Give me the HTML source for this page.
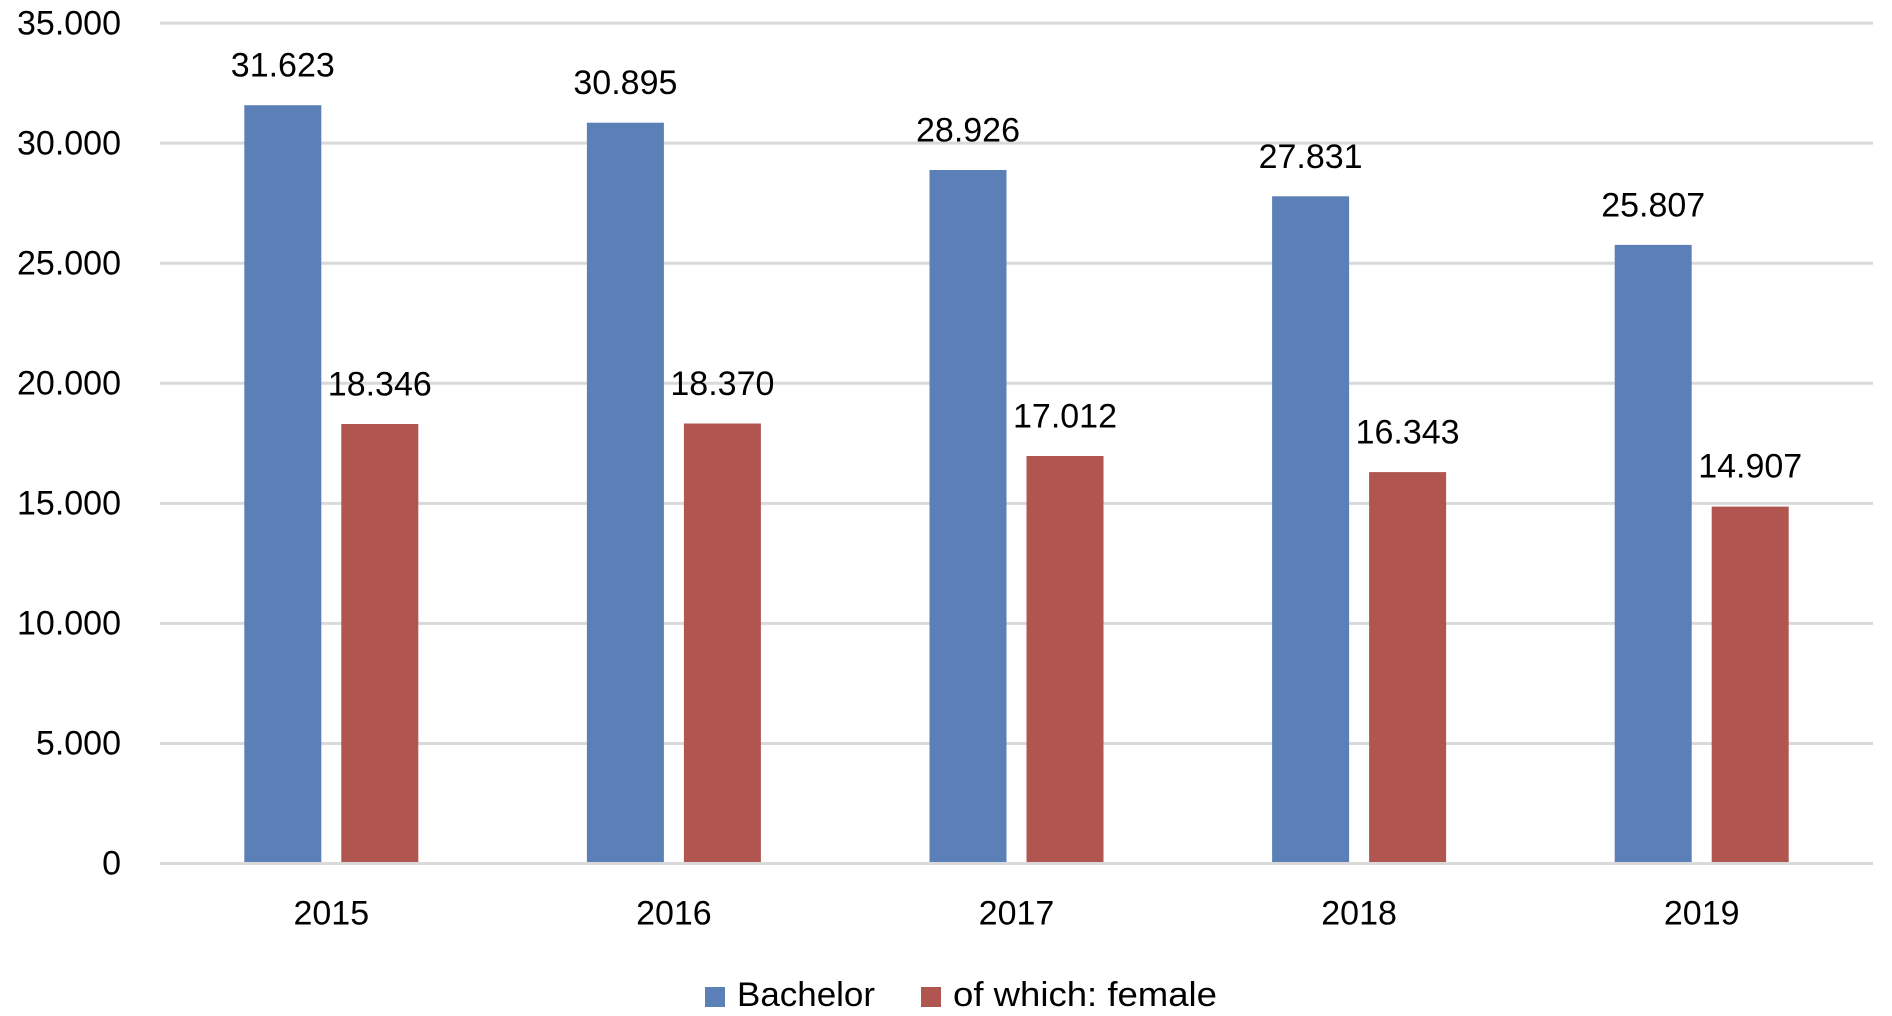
<!DOCTYPE html>
<html><head><meta charset="utf-8"><style>
html,body{margin:0;padding:0;background:#fff;}
svg{display:block;}
text{font-family:"Liberation Sans",Arial,sans-serif;font-size:34px;fill:#000;}
</style></head><body>
<svg width="1892" height="1016" viewBox="0 0 1892 1016" xmlns="http://www.w3.org/2000/svg">
<rect width="1892" height="1016" fill="#fff"/>
<g stroke="#d9d9d9" stroke-width="3">
<line x1="160" x2="1873" y1="23.1" y2="23.1"/>
<line x1="160" x2="1873" y1="143.1" y2="143.1"/>
<line x1="160" x2="1873" y1="263.2" y2="263.2"/>
<line x1="160" x2="1873" y1="383.3" y2="383.3"/>
<line x1="160" x2="1873" y1="503.4" y2="503.4"/>
<line x1="160" x2="1873" y1="623.4" y2="623.4"/>
<line x1="160" x2="1873" y1="743.5" y2="743.5"/>
</g>
<g text-anchor="end">
<text x="121" y="34.5">35.000</text>
<text x="121" y="154.5">30.000</text>
<text x="121" y="274.5">25.000</text>
<text x="121" y="394.5">20.000</text>
<text x="121" y="514.5">15.000</text>
<text x="121" y="634.5">10.000</text>
<text x="121" y="754.5">5.000</text>
<text x="121" y="874.5">0</text>
</g>
<g fill="#5b80b8">
<rect x="244.3" y="105.2" width="77" height="759.3"/>
<rect x="586.9" y="122.7" width="77" height="741.8"/>
<rect x="929.5" y="170.0" width="77" height="694.5"/>
<rect x="1272.1" y="196.3" width="77" height="668.2"/>
<rect x="1614.7" y="244.9" width="77" height="619.6"/>
</g>
<g fill="#b0554f">
<rect x="341.3" y="424.0" width="77" height="440.5"/>
<rect x="683.9" y="423.5" width="77" height="441.0"/>
<rect x="1026.5" y="456.0" width="77" height="408.5"/>
<rect x="1369.1" y="472.1" width="77" height="392.4"/>
<rect x="1711.7" y="506.6" width="77" height="357.9"/>
</g>
<line x1="160" x2="1873" y1="863.5" y2="863.5" stroke="#d9d9d9" stroke-width="3"/>
<g text-anchor="middle">
<text x="282.8" y="76.5">31.623</text>
<text x="379.8" y="395.5">18.346</text>
<text x="625.4" y="94">30.895</text>
<text x="722.4" y="395">18.370</text>
<text x="968" y="141.5">28.926</text>
<text x="1065" y="427.5">17.012</text>
<text x="1310.6" y="168">27.831</text>
<text x="1407.6" y="443.5">16.343</text>
<text x="1653.2" y="216.5">25.807</text>
<text x="1750.2" y="477.5">14.907</text>
</g>
<g text-anchor="middle">
<text x="331.3" y="924.5">2015</text>
<text x="673.9" y="924.5">2016</text>
<text x="1016.5" y="924.5">2017</text>
<text x="1359.1" y="924.5">2018</text>
<text x="1701.7" y="924.5">2019</text>
</g>
<rect x="705" y="987" width="20" height="20" fill="#5b80b8"/>
<text x="737" y="1006" textLength="138" lengthAdjust="spacingAndGlyphs">Bachelor</text>
<rect x="921" y="987" width="20" height="20" fill="#b0554f"/>
<text x="953" y="1006" textLength="264" lengthAdjust="spacingAndGlyphs">of which: female</text>
</svg>
</body></html>
